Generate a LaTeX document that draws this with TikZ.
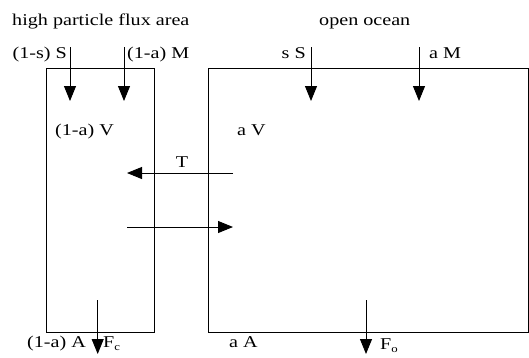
\documentclass[tikz,border=0pt]{standalone}
\usepackage{fontspec}
\setmainfont{Liberation Serif}[FakeStretch=1.22]
\usetikzlibrary{arrows.meta}

\begin{document}
\begin{tikzpicture}[x=1pt,y=-1pt,
    flux/.style={-{Triangle[length=15pt,width=12pt]},line width=0.9pt},
    lbl/.style={inner sep=0pt,font=\fontsize{16.5}{19}\selectfont},
    basin/.style={draw,line width=0.8pt,inner sep=0pt,anchor=north west}]
    \useasboundingbox (0,0) rectangle (529,357);
    % the two boxes
    \node[basin,minimum width=108pt,minimum height=264pt] (coast) at (45.5,67.5) {};
    \node[basin,minimum width=320.5pt,minimum height=264.5pt] (ocean) at (207.5,67.5) {};
    \node[lbl,anchor=base west] (tcoast) at (12,25) {high particle flux area};
    \node[lbl,anchor=base west] (tocean) at (319,25) {open ocean};
    % fluxes from above
    \coordinate (sC0) at (70,47);   \coordinate (sC1) at (70,101);
    \coordinate (mC0) at (124,47);  \coordinate (mC1) at (124,101);
    \coordinate (sO0) at (311,47);  \coordinate (sO1) at (311,101);
    \coordinate (mO0) at (419,47);  \coordinate (mO1) at (419,101);
    \draw[flux] (sC0) -- (sC1);
    \draw[flux] (mC0) -- (mC1);
    \draw[flux] (sO0) -- (sO1);
    \draw[flux] (mO0) -- (mO1);
    \node[lbl,anchor=base east] (lsC) at (67,58) {(1-s) S};
    \node[lbl,anchor=base west] (lmC) at (127,58) {(1-a) M};
    \node[lbl,anchor=base east] (lsO) at (306,58) {s S};
    \node[lbl,anchor=base west] (lmO) at (429,58) {a M};
    % volumes
    \node[lbl,anchor=base west] (vC) at (55,135) {(1-a) V};
    \node[lbl,anchor=base west] (vO) at (237,135) {a V};
    % exchange
    \coordinate (tR0) at (233,173); \coordinate (tL0) at (127,173);
    \coordinate (tL1) at (127,227); \coordinate (tR1) at (233,227);
    \draw[flux] (tR0) -- (tL0);
    \draw[flux] (tL1) -- (tR1);
    \node[lbl,anchor=base] (lT) at (182,167) {T};
    % export fluxes
    \coordinate (fC0) at (97.7,300); \coordinate (fC1) at (97.7,354);
    \coordinate (fO0) at (366,300);  \coordinate (fO1) at (366,354);
    \draw[flux] (fC0) -- (fC1);
    \draw[flux] (fO0) -- (fO1);
    \node[lbl,anchor=base west] (aC) at (27,347) {(1-a) A};
    \node[lbl,anchor=base west] (lFc) at (103,347) {F\raisebox{-3pt}{\fontsize{10.5}{12}\selectfont c}};
    \node[lbl,anchor=base west] (aO) at (229,347) {a A};
    \node[lbl,anchor=base west] (lFo) at (380,349) {F\raisebox{-3pt}{\fontsize{10.5}{12}\selectfont o}};
\end{tikzpicture}
\end{document}
